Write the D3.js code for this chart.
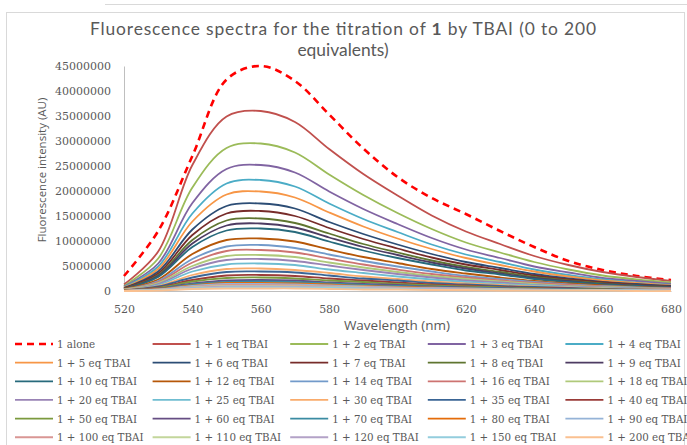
<!DOCTYPE html>
<html><head><meta charset="utf-8">
<script src="https://cdn.jsdelivr.net/npm/d3@7"></script>
<style>
html,body{margin:0;padding:0;background:#fff;}
svg{display:block;}
</style></head>
<body>
<svg id="chart" width="687" height="445"></svg>
<script>
// ---- data ----
const wavelengths = [520,530,540,550,560,570,580,590,600,610,620,630,640,650,660,670,680];
const seriesNames = ["1 alone","1 + 1 eq TBAI","1 + 2 eq TBAI","1 + 3 eq TBAI","1 + 4 eq TBAI",
"1 + 5 eq TBAI","1 + 6 eq TBAI","1 + 7 eq TBAI","1 + 8 eq TBAI","1 + 9 eq TBAI",
"1 + 10 eq TBAI","1 + 12 eq TBAI","1 + 14 eq TBAI","1 + 16 eq TBAI","1 + 18 eq TBAI",
"1 + 20 eq TBAI","1 + 25 eq TBAI","1 + 30 eq TBAI","1 + 35 eq TBAI","1 + 40 eq TBAI",
"1 + 50 eq TBAI","1 + 60 eq TBAI","1 + 70 eq TBAI","1 + 80 eq TBAI","1 + 90 eq TBAI",
"1 + 100 eq TBAI","1 + 110 eq TBAI","1 + 120 eq TBAI","1 + 150 eq TBAI","1 + 200 eq TBAI"];
const seriesColors = ["#FF0000","#C0504D","#9BBB59","#8064A2","#4BACC6",
"#F79646","#2C4D75","#772C2A","#5F7530","#4D3B62",
"#276A7C","#B65708","#729ACA","#CD7371","#AFC97A",
"#9983B5","#6FBDD1","#F9AB6B","#3A6595","#9A3B38",
"#7B9A3E","#664E83","#3A8BA2","#E46C0A","#95B3D7",
"#D99694","#C3D69B","#B3A2C7","#93CDDD","#FAC090"];
// intensities in millions of AU
const intensities = [
[3.0,12.0,27.0,42.3,45.0,42.0,35.3,28.5,22.8,18.6,15.4,12.0,8.8,6.0,4.2,3.0,2.2],
[1.3,7.9,25.2,34.9,36.0,33.8,28.4,23.4,19.1,15.1,11.9,9.4,7.0,5.2,3.8,2.8,2.0],
[1.0,6.5,20.7,28.6,29.5,27.7,23.3,19.2,15.6,12.4,9.7,7.7,5.8,4.3,3.1,2.3,1.7],
[0.9,5.5,17.6,24.4,25.2,23.7,19.9,16.4,13.4,10.6,8.3,6.6,4.9,3.7,2.6,2.0,1.4],
[0.8,4.9,15.5,21.5,22.2,20.9,17.5,14.4,11.8,9.3,7.3,5.8,4.3,3.2,2.3,1.7,1.2],
[0.7,4.4,13.9,19.3,19.9,18.7,15.7,12.9,10.5,8.4,6.6,5.2,3.9,2.9,2.1,1.6,1.1],
[0.6,3.9,12.3,17.0,17.5,16.5,13.8,11.4,9.3,7.4,5.8,4.6,3.4,2.5,1.8,1.4,1.0],
[0.6,3.5,11.2,15.5,16.0,15.0,12.6,10.4,8.5,6.7,5.3,4.2,3.1,2.3,1.7,1.2,0.9],
[0.5,3.2,10.2,14.1,14.5,13.6,11.5,9.4,7.7,6.1,4.8,3.8,2.8,2.1,1.5,1.1,0.8],
[0.5,3.0,9.5,13.1,13.5,12.7,10.7,8.8,7.2,5.7,4.5,3.5,2.6,2.0,1.4,1.1,0.8],
[0.4,2.8,8.8,12.1,12.5,11.8,9.9,8.1,6.6,5.3,4.1,3.3,2.4,1.8,1.3,1.0,0.7],
[0.4,2.3,7.4,10.2,10.5,9.9,8.3,6.8,5.6,4.4,3.5,2.7,2.0,1.5,1.1,0.8,0.6],
[0.3,2.0,6.4,8.9,9.2,8.6,7.3,6.0,4.9,3.9,3.0,2.4,1.8,1.3,1.0,0.7,0.5],
[0.3,1.8,5.7,8.0,8.2,7.7,6.5,5.3,4.3,3.4,2.7,2.1,1.6,1.2,0.9,0.6,0.5],
[0.3,1.6,5.0,7.0,7.2,6.8,5.7,4.7,3.8,3.0,2.4,1.9,1.4,1.0,0.8,0.6,0.4],
[0.2,1.4,4.5,6.2,6.4,6.0,5.1,4.2,3.4,2.7,2.1,1.7,1.2,0.9,0.7,0.5,0.4],
[0.2,1.2,3.9,5.3,5.5,5.2,4.3,3.6,2.9,2.3,1.8,1.4,1.1,0.8,0.6,0.4,0.3],
[0.2,1.0,3.2,4.4,4.5,4.2,3.6,2.9,2.4,1.9,1.5,1.2,0.9,0.7,0.5,0.4,0.3],
[0.1,0.9,2.7,3.8,3.9,3.7,3.1,2.5,2.1,1.6,1.3,1.0,0.8,0.6,0.4,0.3,0.2],
[0.1,0.7,2.2,3.1,3.2,3.0,2.5,2.1,1.7,1.3,1.1,0.8,0.6,0.5,0.3,0.2,0.2],
[0.1,0.6,1.9,2.6,2.7,2.5,2.1,1.8,1.4,1.1,0.9,0.7,0.5,0.4,0.3,0.2,0.2],
[0.1,0.5,1.5,2.1,2.2,2.1,1.7,1.4,1.2,0.9,0.7,0.6,0.4,0.3,0.2,0.2,0.1],
[0.1,0.4,1.3,1.8,1.9,1.8,1.5,1.2,1.0,0.8,0.6,0.5,0.4,0.3,0.2,0.1,0.1],
[0.1,0.4,1.1,1.6,1.6,1.5,1.3,1.0,0.8,0.7,0.5,0.4,0.3,0.2,0.2,0.1,0.1],
[0.0,0.3,1.0,1.4,1.4,1.3,1.1,0.9,0.7,0.6,0.5,0.4,0.3,0.2,0.1,0.1,0.1],
[0.0,0.3,0.8,1.2,1.2,1.1,0.9,0.8,0.6,0.5,0.4,0.3,0.2,0.2,0.1,0.1,0.1],
[0.0,0.2,0.7,1.0,1.0,0.9,0.8,0.7,0.5,0.4,0.3,0.3,0.2,0.1,0.1,0.1,0.1],
[0.0,0.2,0.6,0.9,0.9,0.8,0.7,0.6,0.5,0.4,0.3,0.2,0.2,0.1,0.1,0.1,0.1],
[0.0,0.2,0.5,0.7,0.7,0.7,0.6,0.5,0.4,0.3,0.2,0.2,0.1,0.1,0.1,0.1,0.0],
[0.0,0.1,0.4,0.5,0.5,0.5,0.4,0.3,0.3,0.2,0.2,0.1,0.1,0.1,0.1,0.0,0.0]];
const UNIT = 1e6;
const xTicks = [520,540,560,580,600,620,640,660,680];
const yTicks = [0,5000000,10000000,15000000,20000000,25000000,30000000,35000000,40000000,45000000];
const titleLine1 = ["Fluorescence spectra for the titration of ", "1", " by TBAI (0 to 200"];
const titleLine2 = "equivalents)";
const xTitle = "Wavelength (nm)";
const yTitle = "Fluorescence intensity (AU)";

// ---- layout ----
const svg = d3.select("#chart");
const L = 124, R = 671, T = 66, B = 291;
const x = d3.scaleLinear().domain([520,680]).range([L,R]);
const y = d3.scaleLinear().domain([0,45000000]).range([B,T]);
const textCol = "#595959";
const sans = "'Open Sans', 'Liberation Sans', sans-serif";
const titleFont = "Lato, 'Open Sans', sans-serif";
const serif = "'DejaVu Serif', serif";

// frame
svg.append("line").attr("x1",105).attr("x2",687).attr("y1",4.5).attr("y2",4.5)
  .attr("stroke","#d9d9d9").attr("stroke-width",1);
svg.append("rect").attr("x",6.5).attr("y",12.5).attr("width",678).attr("height",440)
  .attr("fill","none").attr("stroke","#d9d9d9").attr("stroke-width",1);

// title
const t1 = svg.append("text").attr("x",343).attr("y",35).attr("text-anchor","middle")
  .attr("font-family",titleFont).attr("font-size",17.4).attr("fill",textCol)
  .attr("textLength",506).attr("lengthAdjust","spacing");
titleLine1.forEach((s,i)=>t1.append("tspan").text(s).attr("font-weight", i===1?"bold":null));
svg.append("text").attr("x",343).attr("y",56).attr("text-anchor","middle")
  .attr("font-family",titleFont).attr("font-size",17.4).attr("fill",textCol).text(titleLine2);

// axes
const yAxis = d3.axisLeft(y).tickValues(yTicks).tickSize(0).tickPadding(13).tickFormat(d3.format("d"));
const gy = svg.append("g").attr("transform",`translate(${L},0)`).call(yAxis);
gy.select(".domain").attr("stroke","#bfbfbf");
gy.selectAll("text").attr("font-family",serif).attr("font-size",11).attr("fill",textCol);

const xAxis = d3.axisBottom(x).tickValues(xTicks).tickSize(0).tickPadding(14).tickFormat(d3.format("d"));
const gx = svg.append("g").attr("transform",`translate(0,${B})`).call(xAxis);
gx.select(".domain").attr("stroke","#bfbfbf");
gx.selectAll("text").attr("font-family",serif).attr("font-size",11).attr("fill",textCol);

svg.append("text").attr("x",397).attr("y",330).attr("text-anchor","middle")
  .attr("font-family",sans).attr("font-size",13.5).attr("fill",textCol).text(xTitle);
svg.append("text").attr("transform","translate(46,170) rotate(-90)").attr("text-anchor","middle")
  .attr("font-family",sans).attr("font-size",11.5).attr("fill",textCol).text(yTitle);

// lines
const line = d3.line().x((d,i)=>x(wavelengths[i])).y(d=>y(d*UNIT)).curve(d3.curveCatmullRom.alpha(0.5));
const gl = svg.append("g");
intensities.forEach((vals,si)=>{
  gl.append("path").attr("d",line(vals)).attr("fill","none")
    .attr("stroke",seriesColors[si])
    .attr("stroke-width", si===0?2.6:1.8)
    .attr("stroke-dasharray", si===0?"7,5":null)
    .attr("stroke-linejoin","round");
});

// legend
const lg = svg.append("g");
seriesNames.forEach((name,i)=>{
  const col = i%5, row = Math.floor(i/5);
  const lx = 15 + col*137.6, ly = 344 + row*18.65;
  lg.append("line").attr("x1",lx).attr("x2",lx+38).attr("y1",ly).attr("y2",ly)
    .attr("stroke",seriesColors[i]).attr("stroke-width", i===0?2.6:1.8)
    .attr("stroke-dasharray", i===0?"7,5":null);
  lg.append("text").attr("x",lx+42).attr("y",ly+4).attr("font-family",serif)
    .attr("font-size",10.3).attr("fill",textCol).text(name);
});
</script>
</body></html>
